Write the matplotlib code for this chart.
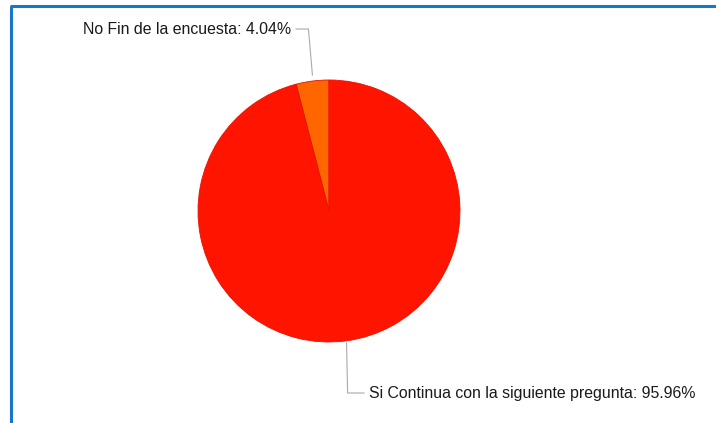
import numpy as np
import matplotlib
matplotlib.use("Agg")
import matplotlib.pyplot as plt

labels = ["No Fin de la encuesta", "Si Continua con la siguiente pregunta"]
values = [4.04, 95.96]
colors = ["#FF6600", "#FF1400"]

W, H = 716, 423
fig = plt.figure(figsize=(W / 100, H / 100), dpi=100)
ax = fig.add_axes([0, 0, 1, 1])

cx, cy, r = 329, H - 211, 131
wedges, _ = ax.pie(values, colors=colors, startangle=90, counterclock=True,
                   center=(cx, cy), radius=r, frame=True,
                   wedgeprops=dict(linewidth=0.6, edgecolor="#E81200"))
ax.set_xlim(0, W)
ax.set_ylim(0, H)
ax.set_aspect("equal")
ax.axis("off")

# blue frame on top and left
ax.plot([11, 11], [0, H - 6], color="#1A75CF", lw=2.2, solid_capstyle="butt")
ax.plot([10, W], [H - 6, H - 6], color="#1A75CF", lw=2.2, solid_capstyle="butt")

grey = "#AAAAAA"
font = dict(family=["Liberation Sans", "DejaVu Sans"], fontsize=11.4, color="#1a1a1a")

# label for the small slice
w = wedges[0]
mid = np.deg2rad((w.theta1 + w.theta2) / 2)
ex, ey = cx + r * np.cos(mid), cy + r * np.sin(mid)
ty = H - 29
ax.plot([ex, ex - 4, 296], [ey + 6, ty, ty], color=grey, lw=0.8)
ax.text(291, ty, f"{labels[0]}: {values[0]:.2f}%", ha="right", va="center", **font)

# label for the big slice
w = wedges[1]
mid = np.deg2rad((w.theta1 + w.theta2) / 2)
ex, ey = cx + r * np.cos(mid), cy + r * np.sin(mid)
ty = H - 393
ax.plot([ex + 1, ex + 2, 364], [ey - 2, ty, ty], color=grey, lw=0.8)
ax.text(369, ty, f"{labels[1]}: {values[1]:.2f}%", ha="left", va="center", **font)

fig.savefig("out.png", dpi=100, facecolor="white")
